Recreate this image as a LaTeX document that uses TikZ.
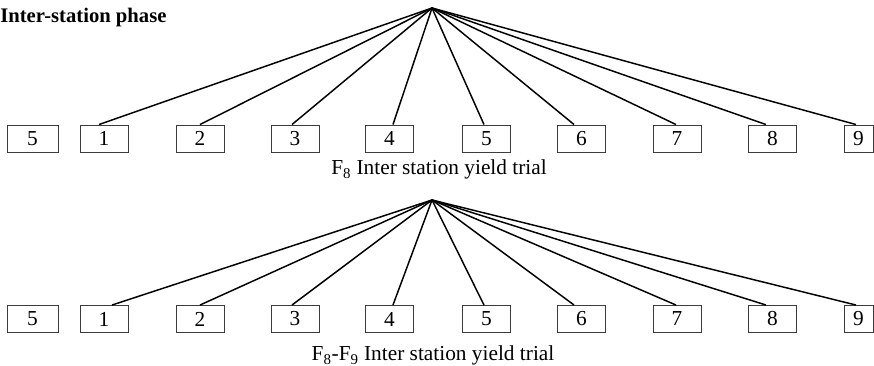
\documentclass[tikz,border=0pt]{standalone}
\usepackage{fontspec}
\setmainfont{Liberation Serif}

\begin{document}
\begin{tikzpicture}[x=0.75pt,y=0.75pt,yscale=-1,xscale=1,
  entry/.style={draw={rgb, 255:red, 60; green, 60; blue, 60 },line width=0.7pt,minimum width=36pt,minimum height=20.25pt,inner sep=0pt,font=\fontsize{16}{19}\selectfont},
  link/.style={line width=1.1pt},
  caption/.style={anchor=base,inner sep=0pt,font=\fontsize{16}{19}\selectfont}]
%set diagram left start at 0, and has height of 366
\useasboundingbox (0,0) rectangle (874,366);

% Text Node
\node [anchor=base west,inner sep=0pt,font=\bfseries\fontsize{15.5}{18}\selectfont] (title) at (0,23) {Inter-station phase};

%Upper row of boxes
\node [entry,minimum width=38.25pt] (a0) at (32.5,138.5) {5};
\node [entry] (a1) at (104,138.5) {1};
\node [entry] (a2) at (200,138.5) {2};
\node [entry] (a3) at (295,138.5) {3};
\node [entry] (a4) at (389.5,138.5) {4};
\node [entry] (a5) at (486.5,138.5) {5};
\node [entry] (a6) at (581.5,138.5) {6};
\node [entry] (a7) at (677,138.5) {7};
\node [entry] (a8) at (772.5,138.5) {8};
\node [entry,minimum width=21.75pt] (a9) at (858.5,138.5) {9};
\coordinate (topA) at (432,8);

%Straight Lines
\draw [link] (topA) -- ([xshift=-3.75pt]a1.north);
\draw [link] (topA) -- (a2.north);
\draw [link] (topA) -- ([xshift=-2.25pt]a3.north);
\draw [link] (topA) -- ([xshift=2.6pt]a4.north);
\draw [link] (topA) -- ([xshift=-1.9pt]a5.north);
\draw [link] (topA) -- ([xshift=-5.6pt]a6.north);
\draw [link] (topA) -- ([xshift=-0.75pt]a7.north);
\draw [link] (topA) -- ([xshift=-4.9pt]a8.north);
\draw [link] (topA) -- ([xshift=-1.9pt]a9.north);

% Text Node
\node [caption] (capA) at (439,175) {F\textsubscript{8} Inter station yield trial};

%Lower row of boxes
\node [entry,minimum width=38.25pt] (b0) at (32.5,319) {5};
\node [entry] (b1) at (104,319) {1};
\node [entry] (b2) at (200,319) {2};
\node [entry] (b3) at (295,319) {3};
\node [entry] (b4) at (389.5,319) {4};
\node [entry] (b5) at (486.5,319) {5};
\node [entry] (b6) at (581.5,319) {6};
\node [entry] (b7) at (677,319) {7};
\node [entry] (b8) at (772.5,319) {8};
\node [entry,minimum width=21.75pt] (b9) at (858.5,319) {9};
\coordinate (topB) at (432,200);

%Straight Lines
\draw [link] (topB) -- ([xshift=6pt]b1.north);
\draw [link] (topB) -- (b2.north);
\draw [link] (topB) -- ([xshift=-2.25pt]b3.north);
\draw [link] (topB) -- ([xshift=2.6pt]b4.north);
\draw [link] (topB) -- ([xshift=-1.9pt]b5.north);
\draw [link] (topB) -- ([xshift=-5.6pt]b6.north);
\draw [link] (topB) -- ([xshift=-0.75pt]b7.north);
\draw [link] (topB) -- ([xshift=-4.9pt]b8.north);
\draw [link] (topB) -- ([xshift=-1.9pt]b9.north);

% Text Node
\node [caption] (capB) at (433,361) {F\textsubscript{8}-F\textsubscript{9} Inter station yield trial};

\end{tikzpicture}
\end{document}
